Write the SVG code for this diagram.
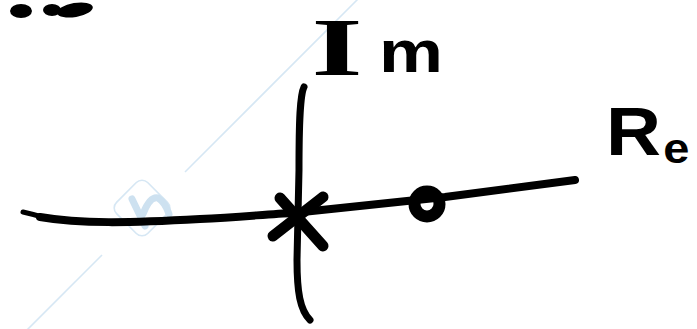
<svg xmlns="http://www.w3.org/2000/svg" width="697" height="329" viewBox="0 0 697 329">
<style>
.ink{fill:none;stroke:#000;stroke-linecap:round;stroke-linejoin:round}
.wm{fill:none;stroke:#d6e7f4;stroke-width:1.6}
.wmf{fill:none;stroke:#cde1f0;stroke-width:7;stroke-linecap:round;stroke-linejoin:round}
.lbl{font-family:"Liberation Sans",Arial,sans-serif;font-weight:bold;fill:#000}
</style>
<rect width="697" height="329" fill="#fff"/>
<g id="watermark">
<line class="wm" x1="358" y1="-1" x2="185" y2="172"/>
<line class="wm" x1="102" y1="255" x2="26" y2="331"/>
<rect class="wm" x="-22" y="-22" width="44" height="44" rx="8" transform="translate(142,208) rotate(45)" stroke-width="2.2"/>
<path class="wmf" d="M132,199 L145,226 M143,214 Q150,196 158,198 Q165,202 169,214"/>
</g>
<g id="fragment">
<ellipse cx="21" cy="11" rx="11" ry="7" fill="#000"/>
<ellipse cx="52" cy="10" rx="9" ry="6" fill="#000"/>
<ellipse cx="75" cy="10" rx="18" ry="7" fill="#000" transform="rotate(-10 75 10)"/>
</g>
<g id="connectors">
<path id="real-axis" class="ink" stroke-width="8" d="M40,217 C80,224 130,223 200,219 C240,217 270,214 293,213 L445,197 L575,180"/>
<path class="ink" stroke-width="5" d="M23,212 Q32,214 42,217"/>
<path id="imag-axis" class="ink" stroke-width="7" d="M304,87 C300,95 299,120 299,170 L297,260 C297,292 300,310 310,320"/>
</g>
<g id="node-pole">
<path class="ink" stroke-width="11" d="M280,198 L323,246"/>
<path class="ink" stroke-width="11" d="M323,197 L273,236"/>
</g>
<g id="node-zero">
<circle class="ink" cx="427" cy="204" r="12.5" stroke-width="12"/>
</g>
<g id="label-im">
<text class="lbl" transform="translate(337,75) scale(1.6,1)" text-anchor="middle" font-size="82" style="font-family:'Liberation Serif',serif">I</text>
<text class="lbl" x="379" y="72" font-size="60" textLength="64" lengthAdjust="spacingAndGlyphs">m</text>
</g>
<g id="label-re">
<text class="lbl" transform="translate(606,155) scale(1.12,1)" font-size="68">R<tspan font-size="42" dx="2" dy="8">e</tspan></text>
</g>
</svg>
